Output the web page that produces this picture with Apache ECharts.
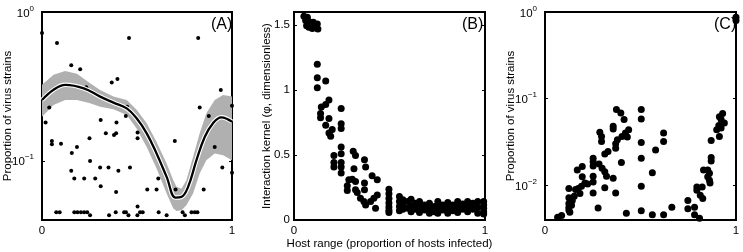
<!DOCTYPE html>
<html>
<head>
<meta charset="utf-8">
<script src="https://cdn.jsdelivr.net/npm/echarts@6/dist/echarts.min.js"></script>
<style>
html, body { margin: 0; padding: 0; background: #fff; }
#chart { width: 743px; height: 252px; }
</style>
</head>
<body>
<div id="chart"></div>
<script>
// (A) fitted curve and its confidence band
const curveX = [0, 0.061, 0.122, 0.22, 0.306, 0.376, 0.446, 0.498, 0.551, 0.603, 0.656, 0.703, 0.734, 0.769, 0.813, 0.857, 0.9, 0.944, 1.0];
const curveY = [0.256, 0.3, 0.324, 0.307, 0.27, 0.246, 0.225, 0.193, 0.153, 0.112, 0.078, 0.0566, 0.0572, 0.0668, 0.101, 0.145, 0.179, 0.196, 0.183];

const bandX = [0, 0.061, 0.122, 0.184, 0.253, 0.306, 0.376, 0.446, 0.498, 0.551, 0.603, 0.656, 0.691, 0.708, 0.734, 0.76, 0.795, 0.83, 0.865, 0.909, 0.953, 1.0];
const bandUpper = [0.324, 0.378, 0.402, 0.384, 0.332, 0.299, 0.27, 0.256, 0.22, 0.179, 0.134, 0.096, 0.0741, 0.0668, 0.065, 0.0741, 0.106, 0.153, 0.209, 0.256, 0.277, 0.27];
const bandLower = [0.198, 0.237, 0.256, 0.256, 0.244, 0.231, 0.222, 0.203, 0.165, 0.124, 0.0888, 0.0602, 0.0477, 0.046, 0.0465, 0.0502, 0.0602, 0.0822, 0.101, 0.112, 0.109, 0.101];

// (A) proportion of virus strains vs host range
const pointsA = [
  [0, 0.722], [0.079, 0.618], [0.458, 0.668], [0.822, 0.668],
  [0.154, 0.439], [0.201, 0.413], [0.397, 0.355], [0.367, 0.336],
  [0.233, 0.312], [0.941, 0.299],
  [0.038, 0.228], [0.448, 0.231], [0.83, 0.228], [1.0, 0.234],
  [0.019, 0.181], [0.309, 0.188], [0.392, 0.181], [0.441, 0.2], [0.878, 0.2],
  [0.503, 0.155], [0.503, 0.142], [0.336, 0.153], [0.379, 0.149], [0.39, 0.153],
  [0.052, 0.136], [0.052, 0.129], [0.1, 0.13], [0.184, 0.124], [0.157, 0.113],
  [0.25, 0.142], [0.699, 0.136], [0.909, 0.124],
  [0.253, 0.0995], [0.154, 0.0857], [0.17, 0.076], [0.222, 0.076], [0.28, 0.076],
  [0.306, 0.0902], [0.35, 0.0902], [0.402, 0.0857], [0.463, 0.0902],
  [0.949, 0.0902], [1.0, 0.083],
  [0.309, 0.0675], [0.39, 0.0618], [0.612, 0.076],
  [0.554, 0.0641], [0.603, 0.0641], [0.703, 0.0641], [0.851, 0.0641],
  [0.503, 0.0492],
  [0.075, 0.0451], [0.093, 0.0451], [0.17, 0.0451], [0.187, 0.0451], [0.205, 0.0451],
  [0.222, 0.0451], [0.238, 0.0451], [0.388, 0.0451], [0.432, 0.0451], [0.442, 0.0451],
  [0.516, 0.0451], [0.53, 0.0451], [0.614, 0.0451], [0.74, 0.0451], [0.787, 0.0451],
  [0.804, 0.0451], [0.818, 0.0451],
  [0.253, 0.043], [0.353, 0.043], [0.455, 0.043], [0.502, 0.043], [0.656, 0.043], [0.752, 0.043]
];

// (B) interaction kernel vs host range
const pointsB = [
  [0.052, 1.567], [0.07, 1.559], [0.061, 1.534], [0.078, 1.526], [0.066, 1.495], [0.087, 1.508],
  [0.101, 1.521], [0.108, 1.495], [0.122, 1.508], [0.125, 1.469], [0.078, 1.482], [0.096, 1.474],
  [0.122, 1.198], [0.122, 1.095], [0.166, 1.07], [0.122, 1.018],
  [0.183, 0.923], [0.166, 0.889], [0.143, 0.869], [0.247, 0.858], [0.139, 0.82], [0.183, 0.781],
  [0.139, 0.786], [0.166, 0.729], [0.247, 0.74], [0.247, 0.704], [0.183, 0.67], [0.192, 0.644],
  [0.2, 0.696],
  [0.247, 0.562], [0.247, 0.51], [0.209, 0.497], [0.31, 0.528], [0.322, 0.497], [0.369, 0.464],
  [0.209, 0.443], [0.247, 0.443], [0.209, 0.407], [0.247, 0.407], [0.375, 0.407], [0.247, 0.361],
  [0.314, 0.394], [0.409, 0.34], [0.436, 0.309], [0.287, 0.309], [0.305, 0.314], [0.322, 0.296],
  [0.369, 0.284], [0.279, 0.263], [0.279, 0.227], [0.322, 0.232], [0.331, 0.211], [0.369, 0.232],
  [0.348, 0.168], [0.366, 0.142], [0.375, 0.116], [0.401, 0.142], [0.418, 0.168], [0.436, 0.193],
  [0.427, 0.09],
  [0.497, 0.237], [0.497, 0.201], [0.497, 0.165], [0.497, 0.13], [0.497, 0.1], [0.497, 0.075], [0.497, 0.057],
  [0.552, 0.18], [0.552, 0.142], [0.552, 0.103], [0.552, 0.072],
  [0.57, 0.155], [0.57, 0.116], [0.57, 0.082],
  [0.596, 0.142], [0.596, 0.09],
  [0.613, 0.16], [0.613, 0.108], [0.613, 0.064],
  [0.634, 0.129], [0.634, 0.082],
  [0.657, 0.142], [0.657, 0.098], [0.657, 0.057],
  [0.683, 0.116], [0.683, 0.077],
  [0.709, 0.129], [0.709, 0.09], [0.709, 0.052],
  [0.735, 0.103], [0.735, 0.064],
  [0.753, 0.142], [0.753, 0.098], [0.753, 0.052],
  [0.779, 0.116], [0.779, 0.077],
  [0.805, 0.134], [0.805, 0.09], [0.805, 0.052],
  [0.831, 0.116], [0.831, 0.072],
  [0.857, 0.142], [0.857, 0.098], [0.857, 0.057],
  [0.883, 0.124], [0.883, 0.082],
  [0.909, 0.142], [0.909, 0.103], [0.909, 0.064],
  [0.936, 0.129], [0.936, 0.082],
  [0.962, 0.142], [0.962, 0.098], [0.962, 0.052],
  [0.993, 0.142], [0.993, 0.116], [0.993, 0.09], [0.993, 0.064], [0.993, 0.046]
];

// (C) proportion of virus strains vs host range
const pointsC = [
  [0.374, 0.0752], [0.397, 0.0687], [0.414, 0.0575], [0.357, 0.0481], [0.357, 0.0448],
  [0.438, 0.044], [0.421, 0.0402], [0.431, 0.0361], [0.403, 0.0368], [0.287, 0.041],
  [0.296, 0.0368], [0.296, 0.0322], [0.379, 0.0337], [0.37, 0.0303], [0.37, 0.0269],
  [0.33, 0.0246], [0.313, 0.0231], [0.252, 0.0206], [0.252, 0.0188], [0.252, 0.0168],
  [0.283, 0.0177], [0.299, 0.0158], [0.313, 0.0144], [0.195, 0.0165], [0.169, 0.0151],
  [0.322, 0.0128], [0.357, 0.0121], [0.4, 0.0184], [0.252, 0.0128], [0.252, 0.011],
  [0.195, 0.0126], [0.209, 0.0107], [0.191, 0.0098], [0.223, 0.0104], [0.174, 0.0092],
  [0.16, 0.009], [0.125, 0.0092], [0.125, 0.0072], [0.153, 0.0075], [0.183, 0.0081],
  [0.143, 0.0067], [0.125, 0.0062], [0.125, 0.0056], [0.125, 0.0052], [0.139, 0.0059],
  [0.13, 0.0049], [0.252, 0.0082], [0.313, 0.0094], [0.37, 0.0082], [0.278, 0.0055],
  [0.426, 0.0048], [0.087, 0.0045], [0.066, 0.0043],
  [0.504, 0.0752], [0.504, 0.0585], [0.504, 0.0313], [0.504, 0.0206], [0.504, 0.0098], [0.504, 0.0051],
  [0.621, 0.0402], [0.621, 0.0322], [0.579, 0.0257], [0.562, 0.014], [0.664, 0.0056],
  [0.562, 0.0046], [0.621, 0.0046],
  [0.748, 0.0067], [0.748, 0.0054], [0.783, 0.0056], [0.783, 0.0046], [0.809, 0.0042],
  [0.795, 0.0096], [0.795, 0.0088], [0.813, 0.0077], [0.826, 0.0071], [0.823, 0.0096],
  [0.83, 0.0151], [0.852, 0.0151], [0.852, 0.0126], [0.861, 0.0115], [0.864, 0.0107],
  [0.861, 0.0138], [0.87, 0.021], [0.87, 0.0192], [0.87, 0.033],
  [0.913, 0.0368], [0.899, 0.044], [0.922, 0.046], [0.91, 0.049], [0.939, 0.0526],
  [0.922, 0.0575], [0.913, 0.0618], [0.93, 0.0675],
  [1.0, 0.87], [1.0, 0.8]
];

const xTicks = [0, 1];
const kernelTicks = [0, 0.5, 1, 1.5];
const logTicksA = [0.1, 1];
const logTicksC = [0.01, 0.1, 1];

const FONT = 'Liberation Sans, Arial, sans-serif';
const FS = 11.5;

const chart = echarts.init(document.getElementById('chart'), null, { renderer: 'canvas' });

const grids = [
  { left: 42, top: 12, width: 190, height: 208 },
  { left: 294, top: 12, width: 191, height: 208 },
  { left: 545, top: 12, width: 191, height: 208 }
].map(g => Object.assign(g, {
  show: true, borderColor: '#000', borderWidth: 2, backgroundColor: 'transparent',
  containLabel: false, outerBoundsMode: 'none'
}));

function expText(v) {
  const e = Math.round(Math.log10(v));
  return e < 0 ? '\u2212' + (-e) : String(e);
}

const logLabel = ticks => ({
  customValues: ticks,
  margin: 8,
  formatter: v => '{b|10}{s|' + expText(v) + '}',
  rich: {
    b: { fontSize: FS, fontFamily: FONT, color: '#000', verticalAlign: 'bottom', lineHeight: 15 },
    s: { fontSize: 8, fontFamily: FONT, color: '#000', verticalAlign: 'top', lineHeight: 9 }
  }
});

const tick = values => ({ show: true, inside: true, length: 3, customValues: values, lineStyle: { color: '#000', width: 1 } });

const xAxis = [0, 1, 2].map(i => ({
  type: 'value', gridIndex: i, min: 0, max: 1,
  axisLine: { show: false },
  axisTick: tick(xTicks),
  splitLine: { show: false },
  axisLabel: { customValues: xTicks, color: '#000', fontSize: FS, fontFamily: FONT, margin: 5 }
}));
xAxis[1].name = 'Host range (proportion of hosts infected)';
xAxis[1].nameLocation = 'middle';
xAxis[1].nameGap = 14;
xAxis[1].nameMoveOverlap = false;
xAxis[1].nameTextStyle = { color: '#000', fontSize: FS, fontFamily: FONT, padding: [4, 0, 0, 0] };

const yName = (text, gap) => ({
  name: text, nameLocation: 'middle', nameGap: gap, nameMoveOverlap: false,
  nameTextStyle: { color: '#000', fontSize: FS, fontFamily: FONT }
});

const yAxis = [
  Object.assign({
    type: 'log', logBase: 10, gridIndex: 0, min: 0.04, max: 1,
    axisLine: { show: false }, splitLine: { show: false }, minorTick: { show: false },
    axisTick: tick(logTicksA), axisLabel: logLabel(logTicksA)
  }, yName('Proportion of virus strains', 28)),
  {
    type: 'log', logBase: 10, gridIndex: 0, min: 0.04, max: 1, position: 'right',
    axisLine: { show: false }, splitLine: { show: false },
    axisTick: tick(logTicksA), axisLabel: { show: false }
  },
  Object.assign({
    type: 'value', gridIndex: 1, min: 0, max: 1.6,
    axisLine: { show: false }, splitLine: { show: false },
    axisTick: tick(kernelTicks),
    axisLabel: { customValues: kernelTicks, color: '#000', fontSize: FS, fontFamily: FONT, margin: 4 }
  }, yName('Interaction kernel (\u03c6, dimensionless)', 21)),
  {
    type: 'value', gridIndex: 1, min: 0, max: 1.6, position: 'right',
    axisLine: { show: false }, splitLine: { show: false },
    axisTick: tick(kernelTicks), axisLabel: { show: false }
  },
  Object.assign({
    type: 'log', logBase: 10, gridIndex: 2, min: 0.004, max: 1,
    axisLine: { show: false }, splitLine: { show: false },
    axisTick: tick(logTicksC), axisLabel: logLabel(logTicksC)
  }, yName('Proportion of virus strains', 28)),
  {
    type: 'log', logBase: 10, gridIndex: 2, min: 0.004, max: 1, position: 'right',
    axisLine: { show: false }, splitLine: { show: false },
    axisTick: tick(logTicksC), axisLabel: { show: false }
  }
];

const bandData = bandX.map((x, i) => [x, bandUpper[i], bandLower[i]]);
const curveData = curveX.map((x, i) => [x, curveY[i]]);

const dot = { color: '#000', opacity: 1 };

const option = {
  animation: false,
  backgroundColor: '#fff',
  grid: grids,
  xAxis: xAxis,
  yAxis: yAxis,
  series: [
    {
      type: 'custom', xAxisIndex: 0, yAxisIndex: 0, silent: true,
      data: bandData,
      encode: { x: 0, y: [1, 2] },
      renderItem: (params, api) => {
        if (params.dataIndex !== 0) return { type: 'group', children: [] };
        const top = bandData.map(d => api.coord([d[0], d[1]]));
        const bottom = bandData.map(d => api.coord([d[0], d[2]])).reverse();
        return {
          type: 'polygon',
          shape: { points: top.concat(bottom) },
          style: { fill: '#b0b0b0', stroke: null }
        };
      }
    },
    {
      type: 'line', xAxisIndex: 0, yAxisIndex: 0, data: curveData, smooth: 0.4,
      showSymbol: false, silent: true, lineStyle: { color: '#fff', width: 4.5 }
    },
    {
      type: 'line', xAxisIndex: 0, yAxisIndex: 0, data: curveData, smooth: 0.4,
      showSymbol: false, silent: true, lineStyle: { color: '#000', width: 2.3 }
    },
    {
      type: 'scatter', xAxisIndex: 0, yAxisIndex: 0, data: pointsA,
      symbolSize: 4, itemStyle: dot, silent: true
    },
    {
      type: 'scatter', xAxisIndex: 1, yAxisIndex: 2, data: pointsB,
      symbolSize: 7, itemStyle: dot, silent: true
    },
    {
      type: 'scatter', xAxisIndex: 2, yAxisIndex: 4, data: pointsC,
      symbolSize: 7, itemStyle: dot, silent: true
    }
  ],
  graphic: [
    { type: 'text', x: 211, y: 25, style: { text: '(A)', font: '16px ' + FONT, fill: '#000', verticalAlign: 'middle' } },
    { type: 'text', x: 462, y: 25, style: { text: '(B)', font: '16px ' + FONT, fill: '#000', verticalAlign: 'middle' } },
    { type: 'text', x: 714, y: 25, style: { text: '(C)', font: '16px ' + FONT, fill: '#000', verticalAlign: 'middle' } }
  ]
};

chart.setOption(option);
</script>
</body>
</html>
